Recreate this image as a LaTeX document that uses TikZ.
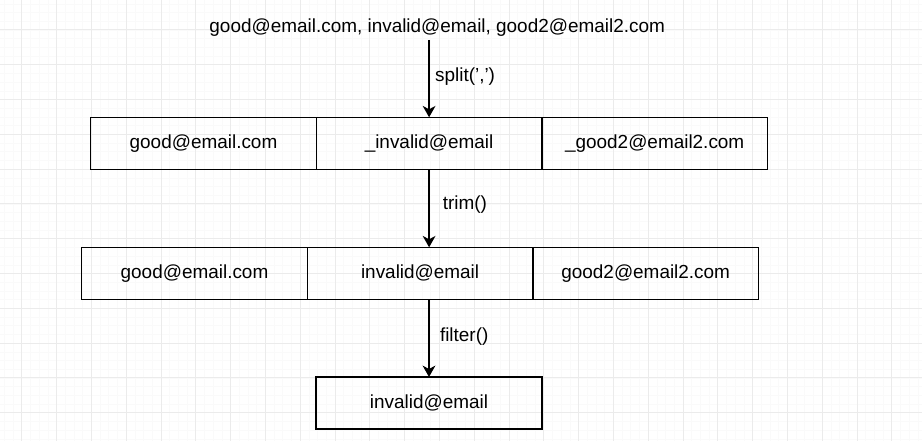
\documentclass[tikz,border=0pt]{standalone}
\usepackage{fontspec}
\setmainfont{Liberation Sans}
\usetikzlibrary{arrows.meta,positioning}

\begin{document}
\begin{tikzpicture}[x=0.75pt,y=-0.75pt,
		font=\fontsize{14.2}{17}\selectfont,
		cell/.style={draw, line width=1.1pt, minimum width=169.2pt, minimum height=39pt, inner sep=0pt, outer sep=0pt},
		flow/.style={line width=1.5pt, -{Stealth[length=8.5pt,width=9.5pt,inset=2.5pt]}},
		lbl/.style={right, inner sep=0pt}]
			\useasboundingbox (0,0) rectangle (922,441);
			\fill[white] (0,0) rectangle (922,441);

			% grid
			\foreach \x in {0,...,105}
				\draw[black!2, line width=0.4pt] (4.3+8.7*\x,0) -- (4.3+8.7*\x,441);
			\foreach \y in {0,...,50}
				\draw[black!2, line width=0.4pt] (0,3.8+8.7*\y) -- (922,3.8+8.7*\y);
			\foreach \x in {0,...,25}
				\draw[black!8, line width=0.6pt] (21.7+34.8*\x,0) -- (21.7+34.8*\x,441);
			\foreach \y in {0,...,11}
				\draw[black!8, line width=0.6pt] (0,29.9+34.8*\y) -- (922,29.9+34.8*\y);

			% input string
			\node[inner ysep=2.5pt] (src) at (437.2,27.5) {good@email.com, invalid@email, good2@email2.com};

			% row after split
			\node[cell] (r1a) at (203.5,143.3) {good@email.com};
			\node[cell, right=0pt of r1a] (r1b) {\_invalid@email};
			\node[cell, right=0pt of r1b] (r1c) {\_good2@email2.com};

			% row after trim
			\node[cell] (r2a) at (194.5,273.3) {good@email.com};
			\node[cell, right=0pt of r2a] (r2b) {invalid@email};
			\node[cell, right=0pt of r2b] (r2c) {good2@email2.com};

			% result of filter
			\node[cell] (res) at (429,403) {invalid@email};

			% arrows with their calls
			\draw[flow] (src.south -| r1b.north) -- node[lbl, xshift=3.75pt, yshift=1.5pt] {split(\char39,\char39)} (r1b.north);
			\draw[flow] (r1b.south) -- node[lbl, xshift=9.5pt, yshift=2.5pt] {trim()} (r1b.south |- r2b.north);
			\draw[flow] (res.north |- r2b.south) -- node[lbl, xshift=7.5pt, yshift=1.5pt] {filter()} (res.north);
		\end{tikzpicture}
\end{document}
